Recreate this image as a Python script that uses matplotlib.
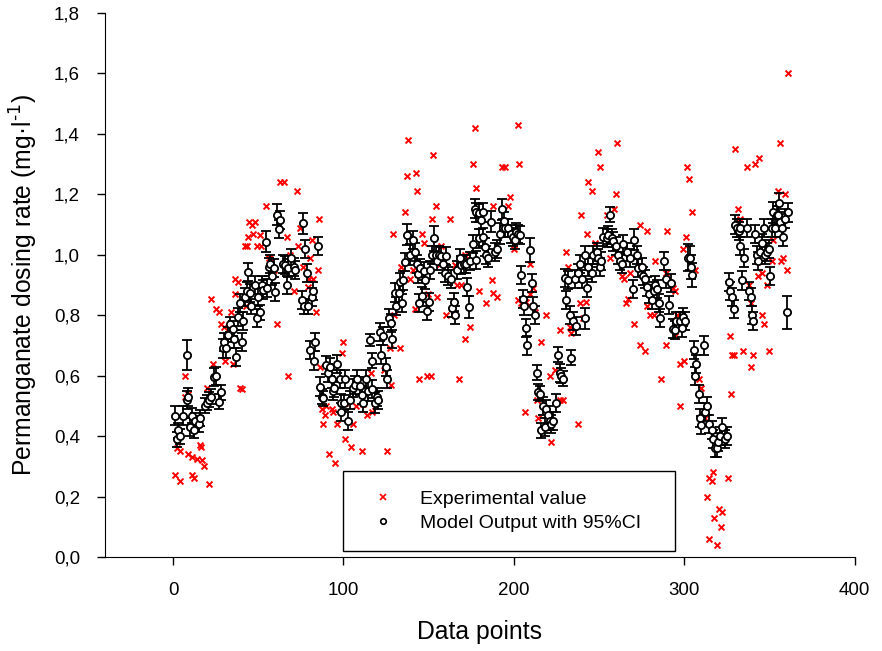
import matplotlib
matplotlib.use("Agg")
import matplotlib.pyplot as plt
from matplotlib.lines import Line2D
from matplotlib.ticker import FuncFormatter

plt.rcParams['font.family'] = ['Liberation Sans', 'DejaVu Sans']
plt.rcParams['mathtext.default'] = 'regular'

# model output (open circles) with 95% CI half-widths
model_x = [1, 2, 3, 4, 6, 8, 8, 9, 10, 11, 12, 13, 15, 16, 19, 20, 21, 22, 24, 25,
           27, 28, 29.5, 30, 31, 32, 33.5, 35, 36, 37, 38, 39.5, 40.5, 41, 42, 43.6, 44.2,
           45.2, 46, 48, 49, 50, 51, 52, 53, 54.4, 55, 56, 57, 58, 59, 60, 61.2, 62.3, 62.7,
           64.7, 65.6, 66.7, 67.6, 69, 70.7, 71.5, 75.4, 76.4, 77.4, 77, 78.4, 79.3, 80.4, 81.3,
           82.3, 82.4, 83.4, 85.2, 86.2, 87.2, 88.2, 90, 91, 92, 93, 94,
           94.4, 96.4, 97.9, 98.8, 98.8, 100.3, 100.9, 102.8, 103.8, 105.8, 106.7, 107.7, 109.7,
           110.7, 111.6, 113.2, 114.5, 115.5, 116.5, 117, 118.4, 119.4, 120.3, 121.4, 122.3,
           123.4, 124.8, 125.6, 126.9, 127.7, 128.3, 130.2, 130.8, 132.7, 133.1, 134.1, 134.7,
           136.1, 137.5, 139.1, 140.6, 142, 143, 144, 144.6,
           145, 146, 147, 148, 149, 150, 151, 152, 153, 154, 155, 156, 157, 158.4, 159.4, 160.4,
           161.4, 163.3, 163.7, 164.8, 165.6, 166.8, 168.2, 169.1, 170.6, 172, 172.6, 173.4,
           174.5, 175.9, 176.9, 177.9, 177.9, 179.8, 179.8, 180.8, 181.8, 181.8, 182.8, 183.8,
           184.8, 186.8, 188.7, 190.3, 191.6, 193, 193.5,
           194.2, 195, 196.7, 198.6, 199.6, 200.6, 201, 202.5, 203.5, 203.9, 205.4, 205.8, 207,
           207.8, 209.4, 210.4, 211.3, 212.3, 213.3, 214.3, 215.3, 216.2, 217.2, 218, 219.1,
           220.1, 221, 222, 223, 224.9, 225.9, 226.9, 227.8, 228.8, 229.8, 230.8, 231.8, 232.7,
           233.8, 234.7, 235.6, 236.6, 237.6, 238.6, 240.1, 241.5, 242, 242.8, 243.4,
           245.6, 246.6, 248.5, 249.5, 250.5, 251.4, 252.4, 254.4, 255.3, 256.3, 257.3, 258.3,
           260.2, 261.2, 262.2, 263.2, 264.1, 266.1, 268.1, 270, 270.5, 272, 273, 275, 276, 277,
           278, 279.4, 281, 282, 283, 284, 285, 286, 288, 289, 291, 292.5, 293.4,
           294.4, 295.4, 297.4, 298.4, 299.3, 300.3, 302.2, 303.2, 304.2, 304.8, 305.6, 306.5,
           307.1, 308.7, 309.5, 310, 311.4, 312.1, 313.5, 314.7, 316.1, 317, 318, 319, 320, 321,
           322, 324, 325, 326, 327, 328, 329, 330, 331, 332, 333, 333, 334, 335, 336.6, 338,
           339, 340, 340.5, 341.3, 342.5, 343.3,
           344.3, 345.9, 346.6, 347.2, 348.6, 349.8, 350.6, 351.2, 352.2, 353.2, 354.2, 355.2,
           355.7, 356.1, 357.1, 358, 359, 360, 361]
model_y = [0.468, 0.39, 0.42, 0.40, 0.468, 0.52, 0.668, 0.53, 0.43, 0.468, 0.42, 0.45, 0.44, 0.46, 0.50, 0.51, 0.52, 0.53, 0.597, 0.60,
           0.514, 0.545, 0.69, 0.71, 0.69, 0.735, 0.77, 0.755, 0.72, 0.663, 0.795, 0.84, 0.71, 0.78, 0.861, 0.88, 0.944,
           0.874, 0.83, 0.90, 0.79, 0.86, 0.81, 0.90, 0.885, 1.043, 0.89, 0.96, 0.97, 0.93, 0.955, 0.876, 1.132, 1.085, 1.115,
           0.97, 0.965, 0.90, 0.955, 0.99, 0.96, 0.95, 0.85, 1.104, 1.02, 0.83, 0.939, 0.83, 0.685, 0.86,
           0.88, 0.65, 0.71, 1.03, 0.564, 0.53, 0.525, 0.635, 0.61, 0.63, 0.59, 0.55,
           0.56, 0.64, 0.59, 0.51, 0.48, 0.51, 0.59, 0.45, 0.52, 0.56, 0.57, 0.59, 0.565,
           0.535, 0.51, 0.59, 0.55, 0.718, 0.65, 0.555, 0.51, 0.53, 0.52, 0.745, 0.67,
           0.73, 0.63, 0.59, 0.79, 0.775, 0.72, 0.875, 0.83, 0.875, 0.91, 0.84, 0.915,
           0.975, 1.067, 1.0, 1.05, 1.01, 0.97, 0.935, 0.84,
           0.956, 0.862, 0.945, 0.917, 0.813, 0.845, 0.95, 1.0, 1.054, 1.0, 0.98, 1.0, 0.995, 0.97, 0.94, 0.995,
           0.93, 0.92, 0.825, 0.845, 0.80, 0.95, 0.99, 0.966, 0.97, 0.97, 0.893, 0.827,
           0.98, 1.036, 1.153, 1.14, 0.983, 1.137, 1.054, 1.114, 1.14, 1.06, 1.027, 1.0,
           0.99, 1.11, 1.01, 1.02, 1.07, 1.15, 1.09,
           1.113, 1.09, 1.088, 1.07, 1.06, 1.05, 1.075, 1.07, 1.065, 0.933, 0.855, 0.83, 0.757,
           0.70, 1.016, 0.906, 0.83, 0.80, 0.61, 0.546, 0.54, 0.42, 0.50, 0.43, 0.49,
           0.47, 0.45, 0.44, 0.45, 0.51, 0.67, 0.61, 0.60, 0.59, 0.922, 0.85, 0.917, 0.80,
           0.66, 0.78, 0.92, 0.765, 0.94, 0.97, 0.92, 0.79, 1.0, 0.89, 0.96,
           0.94, 1.0, 1.01, 0.99, 0.96, 0.98, 1.06, 1.055, 1.065, 1.132, 1.055, 1.044,
           1.03, 1.0, 0.98, 0.97, 1.035, 1.01, 0.99, 0.888, 1.05, 1.0, 0.955, 0.96, 0.93, 0.92,
           0.895, 0.87, 0.85, 0.88, 0.90, 0.888, 0.84, 0.79, 0.98, 0.92, 0.834, 0.906, 0.756,
           0.75, 0.78, 0.78, 0.757, 0.795, 0.78, 0.99, 0.99, 0.96, 0.933, 0.685, 0.60,
           0.64, 0.54, 0.46, 0.437, 0.70, 0.48, 0.50, 0.44, 0.42, 0.39, 0.36, 0.36, 0.38, 0.40,
           0.43, 0.39, 0.40, 0.91, 0.88, 0.86, 0.82, 1.10, 1.09, 1.08, 1.09, 1.03, 0.915, 0.99, 1.09, 0.88,
           0.86, 0.80, 0.78, 1.07, 1.0, 0.98,
           1.01, 1.04, 1.09, 1.0, 1.01, 1.02, 0.93, 1.09, 1.14, 1.09, 1.13, 1.13,
           1.17, 1.11, 1.09, 1.06, 1.12, 0.81, 1.14]
model_ci = [0.03, 0.025, 0.025, 0.025, 0.03, 0.03, 0.05, 0.03, 0.03, 0.025, 0.025, 0.025, 0.025, 0.025, 0.025, 0.025, 0.025, 0.025, 0.03, 0.03,
            0.025, 0.025, 0.03, 0.03, 0.03, 0.025, 0.025, 0.025, 0.03, 0.03, 0.03, 0.03, 0.03, 0.03, 0.03, 0.03, 0.03,
            0.03, 0.025, 0.03, 0.03, 0.03, 0.025, 0.03, 0.03, 0.035, 0.03, 0.03, 0.03, 0.03, 0.03, 0.03, 0.035, 0.03, 0.03,
            0.03, 0.03, 0.03, 0.03, 0.03, 0.03, 0.03, 0.03, 0.035, 0.03, 0.025, 0.03, 0.025, 0.03, 0.03,
            0.03, 0.03, 0.03, 0.03, 0.03, 0.025, 0.025, 0.03, 0.03, 0.03, 0.03, 0.03,
            0.03, 0.03, 0.03, 0.03, 0.03, 0.025, 0.03, 0.03, 0.03, 0.03, 0.03, 0.03, 0.03,
            0.03, 0.03, 0.03, 0.035, 0.02, 0.025, 0.03, 0.035, 0.03, 0.03, 0.03, 0.03,
            0.03, 0.03, 0.03, 0.03, 0.03, 0.03, 0.03, 0.03, 0.03, 0.03, 0.03, 0.03,
            0.03, 0.035, 0.035, 0.03, 0.03, 0.03, 0.03, 0.03,
            0.03, 0.03, 0.03, 0.03, 0.03, 0.03, 0.03, 0.03, 0.04, 0.03, 0.03, 0.03, 0.03, 0.03, 0.03, 0.03,
            0.03, 0.03, 0.03, 0.03, 0.03, 0.03, 0.03, 0.03, 0.03, 0.03, 0.03, 0.035,
            0.03, 0.03, 0.03, 0.03, 0.03, 0.03, 0.03, 0.03, 0.03, 0.03, 0.03, 0.03,
            0.03, 0.035, 0.03, 0.03, 0.035, 0.035, 0.03,
            0.03, 0.03, 0.03, 0.03, 0.03, 0.03, 0.03, 0.03, 0.03, 0.03, 0.03, 0.03, 0.03,
            0.03, 0.04, 0.03, 0.03, 0.03, 0.025, 0.025, 0.025, 0.025, 0.03, 0.03, 0.03,
            0.03, 0.03, 0.03, 0.03, 0.03, 0.025, 0.03, 0.025, 0.025, 0.03, 0.03, 0.03, 0.03,
            0.025, 0.03, 0.03, 0.03, 0.03, 0.03, 0.03, 0.035, 0.03, 0.03, 0.03,
            0.03, 0.03, 0.03, 0.03, 0.03, 0.03, 0.03, 0.03, 0.03, 0.025, 0.03, 0.03,
            0.03, 0.03, 0.03, 0.03, 0.03, 0.03, 0.03, 0.03, 0.035, 0.03, 0.03, 0.03, 0.03, 0.03,
            0.03, 0.03, 0.03, 0.03, 0.03, 0.03, 0.03, 0.03, 0.03, 0.03, 0.03, 0.03, 0.03,
            0.03, 0.03, 0.03, 0.03, 0.03, 0.03, 0.045, 0.04, 0.04, 0.04, 0.03, 0.03,
            0.03, 0.03, 0.03, 0.03, 0.03, 0.03, 0.03, 0.03, 0.03, 0.03, 0.03, 0.03, 0.03, 0.03,
            0.03, 0.03, 0.03, 0.03, 0.03, 0.03, 0.03, 0.03, 0.03, 0.03, 0.03, 0.03, 0.03, 0.03, 0.03, 0.03,
            0.03, 0.03, 0.03, 0.03, 0.03, 0.03,
            0.03, 0.03, 0.03, 0.03, 0.03, 0.03, 0.03, 0.03, 0.035, 0.03, 0.03, 0.03,
            0.035, 0.03, 0.03, 0.03, 0.03, 0.055, 0.03]

# experimental values (red crosses)
exp_x = [1.2, 4, 2, 4, 9, 11, 11, 12, 16, 16.5, 14, 17, 18, 21, 7, 7, 9, 20, 23.5, 22,
         25, 27, 28, 30, 30.5, 35, 34, 36.5, 36.5, 38, 39.5, 40.5, 43, 43.6, 44, 44.8,
         62.8, 65.3, 72.5, 54.4, 46.2, 48, 47.1, 51, 42.2, 49, 51.6, 74.5, 85.7, 66.7, 73.5,
         81.3, 56, 57, 68.8, 76.2, 84.9, 80.4, 79.7, 81.9, 79.3, 71.1, 59.2, 61, 83.7, 67.3,
         86.2, 87.2, 90, 93, 89, 88, 91.5, 94.8,
         138, 137.1, 142.4, 143, 136.1, 129, 133.7, 139.1, 141, 141.9, 129.8, 127.1, 133,
         99.5, 98.9, 124, 116.4, 127.6, 93.6, 96.4, 100.9, 105.4, 107.3, 111.6, 114, 117,
         118.4, 100.9, 104.2, 110.6, 125.6,
         177.1, 152.7, 176.1, 178, 193, 154, 151.7, 162.5, 188, 146, 147.4, 157.5, 171.2,
         187, 179.3, 187.8, 189.8, 183.5, 149.8, 154.7, 160, 166.6, 169.2, 174, 171.4, 144.3,
         148.8, 151.3, 167.8, 156.6, 165.4,
         202.5, 194.7, 202.9, 197.6, 196.5, 200.2, 209.4, 202.5, 204.4, 207.4, 209.4, 211.3,
         212.3, 219.1, 216.2, 226.9, 206.4, 213.3, 214.3, 221, 223.9, 226.9, 228.8, 221.8,
         237.6, 230.6, 231.8, 238.6, 240.5, 232.7, 233.8, 242.4, 242.8, 239.6, 243.4,
         260.8, 249.5, 250.5, 245.6, 260, 258.6, 254.6, 274, 278, 290, 247.5, 256.3, 282.7,
         263.2, 264.7, 268, 289, 267, 266, 278, 280, 282, 270.5, 274, 277, 289, 286.6,
         330, 336.6, 341.8, 343.8, 301.7, 302.9, 304.8, 331.5, 332.7, 300.9, 299.5, 306.2,
         293.1, 294.5, 338, 339, 343.3, 295.5, 294.5, 297.4, 299.7, 297.2, 308.7, 310, 327.6,
         326.8, 328, 329.4, 334.4, 340.3, 339.2, 311, 312.1, 317, 314.7, 316, 325.4, 313.5,
         320.3, 322.3, 317.4, 321.4, 314.5, 319.4,
         356, 360.9, 355, 358.9, 352.2, 357, 358, 360.4, 351.2, 345.7, 348.3, 345.9, 346.6,
         349.7]
exp_y = [0.27, 0.25, 0.36, 0.35, 0.34, 0.33, 0.27, 0.26, 0.37, 0.365, 0.325, 0.32, 0.30, 0.24, 0.60, 0.53, 0.54, 0.56, 0.64, 0.853,
         0.82, 0.81, 0.77, 0.76, 0.65, 0.64, 0.81, 0.87, 0.92, 0.91, 0.56, 0.555, 0.83, 1.03, 1.06, 1.11,
         1.242, 1.24, 1.21, 1.16, 1.10, 1.11, 1.07, 1.065, 1.03, 1.03, 1.03, 1.09, 1.12, 1.06, 1.03,
         1.05, 0.99, 0.985, 1.0, 0.96, 0.95, 0.99, 0.92, 0.92, 0.895, 0.88, 0.95, 0.77, 0.81, 0.60,
         0.63, 0.49, 0.50, 0.49, 0.47, 0.44, 0.34, 0.31,
         1.38, 1.26, 1.27, 1.21, 1.14, 1.07, 0.96, 0.92, 0.95, 0.82, 0.80, 0.69, 0.69,
         0.71, 0.675, 0.62, 0.61, 0.57, 0.48, 0.44, 0.51, 0.44, 0.50, 0.505, 0.47, 0.48,
         0.50, 0.39, 0.365, 0.35, 0.35,
         1.42, 1.33, 1.30, 1.22, 1.29, 1.16, 1.12, 1.12, 1.16, 1.07, 1.04, 1.03, 1.0,
         0.917, 0.879, 0.873, 0.86, 0.84, 0.87, 0.86, 0.80, 0.90, 0.90, 0.76, 0.72, 0.59,
         0.60, 0.60, 0.59, 0.97, 0.965,
         1.43, 1.29, 1.30, 1.19, 1.16, 1.02, 0.97, 0.85, 0.84, 0.845, 0.87, 0.89,
         0.81, 0.80, 0.71, 0.75, 0.48, 0.52, 0.46, 0.60, 0.62, 0.52, 0.52, 0.38,
         0.44, 1.01, 0.96, 0.84, 0.79, 0.76, 0.74, 0.845, 1.07, 1.13, 1.24,
         1.37, 1.34, 1.29, 1.21, 1.20, 1.15, 1.13, 1.10, 1.08, 1.08, 1.04, 0.99, 0.98,
         0.93, 0.92, 0.94, 0.94, 0.855, 0.84, 0.83, 0.80, 0.80, 0.77, 0.70, 0.68, 0.70, 0.59,
         1.35, 1.29, 1.30, 1.32, 1.29, 1.25, 1.14, 1.15, 1.12, 1.06, 1.02, 0.95,
         0.89, 0.88, 0.90, 0.84, 0.93, 0.80, 0.73, 0.64, 0.65, 0.50, 0.59, 0.56, 0.54,
         0.73, 0.67, 0.67, 0.68, 0.67, 0.63, 0.47, 0.46, 0.28, 0.26, 0.25, 0.26, 0.20,
         0.16, 0.15, 0.13, 0.10, 0.06, 0.04,
         1.37, 1.60, 1.21, 1.20, 1.05, 0.98, 0.99, 0.95, 0.98, 0.94, 0.90, 0.80, 0.77,
         0.68]

fig = plt.figure(figsize=(8.82, 6.51), dpi=100)
ax = fig.add_axes([0.119, 0.1444, 0.850, 0.8356])

ax.scatter(exp_x, exp_y, marker='x', s=18, color='#ff0000', linewidths=1.4, zorder=2)
ax.errorbar(model_x, model_y, yerr=model_ci, fmt='o', ms=5.2, mfc='white', mec='black',
            mew=1.3, ecolor='black', elinewidth=1.3, capsize=3.5, capthick=1.3, zorder=3)

ax.set_xlim(-40, 400)
ax.set_ylim(0, 1.8)
ax.set_xticks([0, 100, 200, 300, 400])
ax.set_yticks([0.0, 0.2, 0.4, 0.6, 0.8, 1.0, 1.2, 1.4, 1.6, 1.8])
ax.yaxis.set_major_formatter(FuncFormatter(lambda v, p: f'{v:.1f}'.replace('.', ',')))
ax.spines['top'].set_visible(False)
ax.spines['right'].set_visible(False)
ax.tick_params(direction='out', length=6, width=1, labelsize=13.5, pad=12)
ax.set_xlabel('Data points', fontsize=17.8, labelpad=15)
ax.set_ylabel('Permanganate dosing rate (mg·l$^{\\text{-1}}$)', fontsize=17.8, labelpad=10)

handles = [Line2D([], [], ls='none', marker='x', color='#ff0000', ms=4, mew=1.2),
           Line2D([], [], ls='none', marker='o', mfc='white', mec='black', ms=4, mew=1.2)]
leg = ax.legend(handles, ['Experimental value', 'Model Output with 95%CI'],
                loc='lower left', bbox_to_anchor=(0.317, 0.011, 0.443, 0.149), mode='expand',
                borderaxespad=0, fontsize=14, fancybox=False, edgecolor='black',
                framealpha=1, borderpad=0.97, labelspacing=0.35, handletextpad=0.82,
                handlelength=2.18)
leg.get_frame().set_linewidth(1.0)

fig.savefig('out.png', dpi=100)
